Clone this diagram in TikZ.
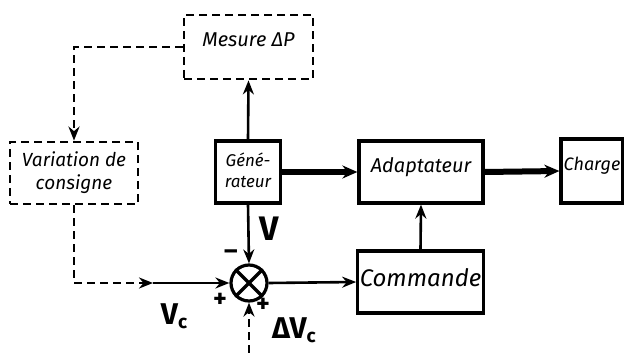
\documentclass[tikz,border=0pt]{standalone}
\usepackage{fontspec}
\setmainfont{Fira Sans}
\usetikzlibrary{arrows.meta, positioning, calc}

\begin{document}
\begin{tikzpicture}[x=1pt, y=-1pt, >={Stealth[length=14pt,width=11pt]}]
  \tikzstyle{block} = [rectangle, draw, line width=3.2pt, align=center, inner sep=2pt, font=\fontsize{20}{23}\selectfont\itshape, text depth=14pt]
  \tikzstyle{dblock} = [block, line width=2.8pt, dash pattern=on 8pt off 5pt]
  \tikzstyle{link} = [->, line width=2.6pt]
  \tikzstyle{power} = [->, line width=6pt, >={Stealth[length=15pt,width=13pt]}]
  \tikzstyle{dlink} = [->, line width=2.6pt, dash pattern=on 8pt off 5pt]
  \tikzstyle{sign} = [inner sep=0pt, font=\fontsize{26}{26}\selectfont\bfseries]

  \useasboundingbox (0,0) rectangle (624,353);

  \node [dblock, minimum width=129pt, minimum height=64pt, font=\fontsize{20}{23}\selectfont\itshape] (mesure) at (248.5,47) {Mesure ΔP};
  \node [dblock, minimum width=128pt, minimum height=62pt, text depth=5pt, font=\fontsize{19}{23}\selectfont\itshape] (variation) at (74,173) {Variation de\\consigne};
  \node [block, minimum width=65pt, minimum height=62pt, text depth=4pt, font=\fontsize{17}{21}\selectfont\itshape] (gen) at (248,172) {Géné-\\rateur};
  \node [block, minimum width=124pt, minimum height=62pt] (adapt) at (421,172) {Adaptateur};
  \node [block, minimum width=62pt, minimum height=64pt, font=\fontsize{18}{21}\selectfont\itshape] (charge) at (592,171) {Charge};
  \node [block, minimum width=125pt, minimum height=62pt, text depth=9pt, font=\fontsize{24}{26}\selectfont\itshape] (commande) at (420.5,282) {Commande};
  \node [circle, draw, line width=3.2pt, minimum size=36pt, inner sep=0pt] (sum) at (249,283) {};
  \draw [line width=3.2pt] (sum.45) -- (sum.225) (sum.135) -- (sum.-45);

  \coordinate (vc) at (153,283);
  \coordinate (dvc) at (249,353);

  % connectors
  \draw [link] (gen.north) -- (mesure.south);
  \draw [dlink] (mesure.west) -| (variation.north);
  \draw [dlink] (variation.south) |- (vc);
  \draw [link] (vc) -- (sum.west);
  \draw [link] (gen.south) -- (sum.north);
  \draw [dlink] (dvc) -- (sum.south);
  \draw [link] (sum.east) -- (commande.west);
  \draw [link] (commande.north) -- (adapt.south);
  \draw [power] (gen.east) -- (adapt.west);
  \draw [power] (adapt.east) -- (charge.west);

  % labels
  \node [font=\fontsize{34}{34}\selectfont\bfseries] (vlabel) at (269,229) {V};
  \node [sign] (minus) at (231,255) {–};
  \node [sign] (plusa) at (220,300) {+};
  \node [sign] (plusb) at (263,305) {+};
  \node [font=\fontsize{30}{30}\selectfont\bfseries] (vclabel) at (174,316) {V\raisebox{-4pt}{\fontsize{19}{19}\selectfont c}};
  \node [font=\fontsize{30}{30}\selectfont\bfseries] (dvclabel) at (294,330) {ΔV\raisebox{-4pt}{\fontsize{19}{19}\selectfont c}};
\end{tikzpicture}
\end{document}
